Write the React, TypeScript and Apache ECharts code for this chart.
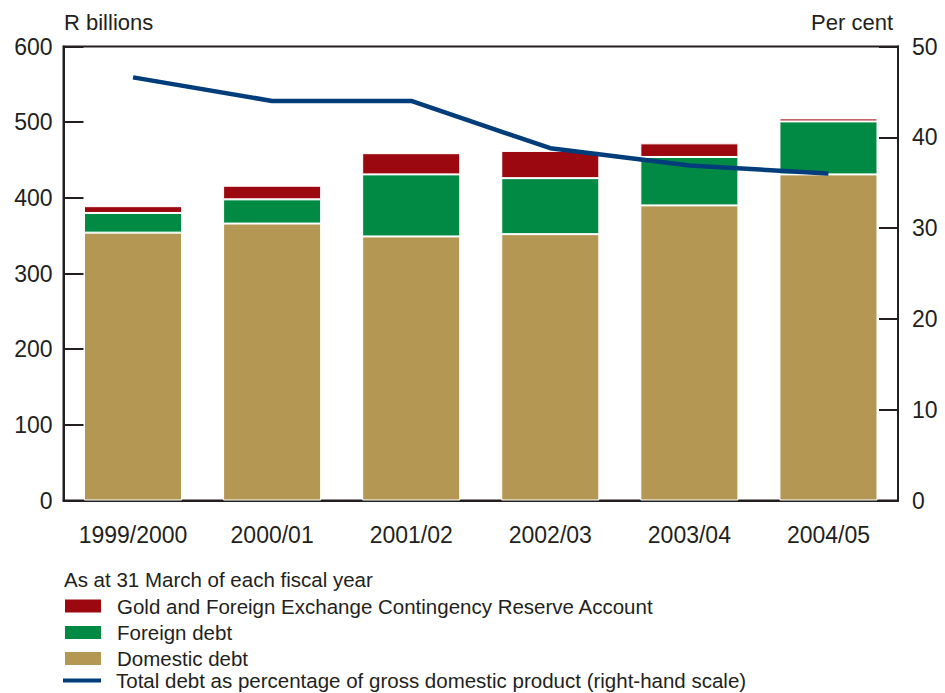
import React, { useEffect, useRef } from "react";
import * as echarts from "echarts";

const categories = ["1999/2000", "2000/01", "2001/02", "2002/03", "2003/04", "2004/05"];
const domesticDebt = [354, 366, 349, 352, 390, 431];
const foreignDebt = [26, 32, 82, 74, 64, 70];
const goldReserve = [9, 18, 28, 36, 18, 4];
const debtPctGdp = [46.6, 44.0, 44.0, 38.8, 36.9, 36.0];

const FONT = "Liberation Sans, Arial, sans-serif";
const TXT = "#231f20";
const NAME_GOLD = "Gold and Foreign Exchange Contingency Reserve Account";
const NAME_FOREIGN = "Foreign debt";
const NAME_DOMESTIC = "Domestic debt";
const NAME_LINE = "Total debt as percentage of gross domestic product (right-hand scale)";

const legendRow = (name: string, top: number, itemHeight: number) => ({
  orient: "vertical",
  left: 63,
  top,
  padding: 0,
  itemWidth: 38,
  itemHeight,
  icon: "rect",
  selectedMode: false,
  data: [name],
  textStyle: { fontFamily: FONT, fontSize: 20.5, lineHeight: 20, color: TXT, padding: [0, 0, 0, 10] },
});

export default function App() {
  const ref = useRef<HTMLDivElement>(null);
  useEffect(() => {
    if (!ref.current) return;
    const chart = echarts.init(ref.current, undefined, { renderer: "svg" });
    chart.setOption({
      animation: false,
      textStyle: { fontFamily: FONT, color: TXT },
      grid: {
        left: 63.5,
        right: 47,
        top: 46.5,
        bottom: 192.5,
        show: true,
        borderColor: TXT,
        borderWidth: 2,
        backgroundColor: "transparent",
      },
      legend: [
        legendRow(NAME_GOLD, 595.5, 15),
        legendRow(NAME_FOREIGN, 622, 15),
        legendRow(NAME_DOMESTIC, 648, 15),
        legendRow(NAME_LINE, 670, 4),
      ],
      graphic: [
        { type: "text", left: 64, top: 11, style: { text: "R billions", fontFamily: FONT, fontSize: 22, fill: TXT } },
        { type: "text", right: 52, top: 11, style: { text: "Per cent", fontFamily: FONT, fontSize: 22, fill: TXT } },
        { type: "text", left: 64, top: 569, style: { text: "As at 31 March of each fiscal year", fontFamily: FONT, fontSize: 20.5, fill: TXT } },
      ],
      xAxis: {
        type: "category",
        data: categories,
        axisLine: { lineStyle: { color: TXT, width: 2 } },
        axisTick: { inside: true, length: 10, lineStyle: { color: TXT, width: 2 } },
        axisLabel: { fontFamily: FONT, fontSize: 23, color: TXT, margin: 23, interval: 0 },
      },
      yAxis: [
        {
          type: "value",
          min: 0,
          max: 600,
          interval: 100,
          splitLine: { show: false },
          axisLine: { show: true, lineStyle: { color: TXT, width: 2 } },
          axisTick: { show: true, inside: true, length: 20, lineStyle: { color: TXT, width: 2 } },
          axisLabel: { fontFamily: FONT, fontSize: 23, color: TXT, margin: 11 },
        },
        {
          type: "value",
          min: 0,
          max: 50,
          interval: 10,
          position: "right",
          splitLine: { show: false },
          axisLine: { show: true, lineStyle: { color: TXT, width: 2 } },
          axisTick: { show: true, inside: true, length: 19, lineStyle: { color: TXT, width: 2 } },
          axisLabel: { fontFamily: FONT, fontSize: 23, color: TXT, margin: 14 },
        },
      ],
      series: [
        {
          name: NAME_DOMESTIC,
          type: "bar",
          stack: "debt",
          data: domesticDebt,
          barWidth: "70.5%",
          itemStyle: { color: "#b59754", borderColor: "#ffffff", borderWidth: 1 },
        },
        {
          name: NAME_FOREIGN,
          type: "bar",
          stack: "debt",
          data: foreignDebt,
          itemStyle: { color: "#008a43", borderColor: "#ffffff", borderWidth: 1 },
        },
        {
          name: NAME_GOLD,
          type: "bar",
          stack: "debt",
          data: goldReserve,
          itemStyle: { color: "#9c0810", borderColor: "#ffffff", borderWidth: 1 },
        },
        {
          name: NAME_LINE,
          type: "line",
          yAxisIndex: 1,
          data: debtPctGdp,
          symbol: "none",
          lineStyle: { color: "#003d7a", width: 4.5 },
          itemStyle: { color: "#003d7a" },
        },
      ],
    });
    return () => chart.dispose();
  }, []);
  return <div ref={ref} style={{ position: "absolute", left: 0, top: 0, width: 945, height: 693 }} />;
}
